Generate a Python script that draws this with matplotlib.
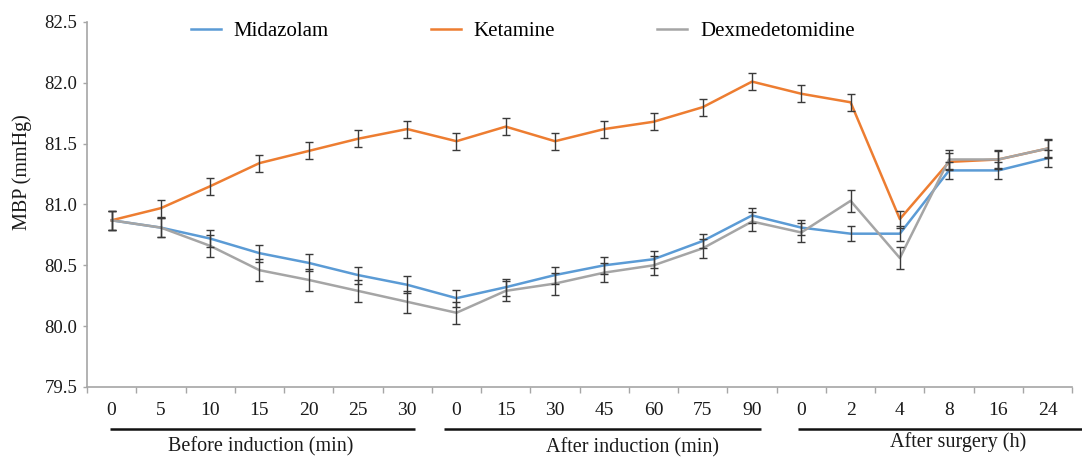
import matplotlib
matplotlib.use("Agg")
import matplotlib.pyplot as plt
import matplotlib.transforms as mtransforms
import numpy as np

plt.rcParams['font.family'] = ['Liberation Serif', 'DejaVu Serif']

# ---- data ----
tick_labels = ['0', '5', '10', '15', '20', '25', '30',
               '0', '15', '30', '45', '60', '75', '90',
               '0', '2', '4', '8', '16', '24']
groups = ['Before induction (min)', 'After induction (min)', 'After surgery (h)']

midazolam = [80.87, 80.81, 80.72, 80.60, 80.52, 80.42, 80.34,
             80.23, 80.32, 80.42, 80.50, 80.55, 80.70, 80.91,
             80.81, 80.76, 80.76, 81.28, 81.28, 81.38]
midazolam_err = [0.08, 0.08, 0.07, 0.07, 0.07, 0.07, 0.07,
                 0.07, 0.07, 0.07, 0.07, 0.07, 0.06, 0.06,
                 0.06, 0.06, 0.06, 0.07, 0.07, 0.07]

ketamine = [80.87, 80.97, 81.15, 81.34, 81.44, 81.54, 81.62,
            81.52, 81.64, 81.52, 81.62, 81.68, 81.80, 82.01,
            81.91, 81.84, 80.88, 81.35, 81.37, 81.46]
ketamine_err = [0.08, 0.07, 0.07, 0.07, 0.07, 0.07, 0.07,
                0.07, 0.07, 0.07, 0.07, 0.07, 0.07, 0.07,
                0.07, 0.07, 0.07, 0.07, 0.07, 0.07]

dexmed = [80.87, 80.81, 80.66, 80.46, 80.38, 80.29, 80.20,
          80.11, 80.29, 80.35, 80.44, 80.50, 80.64, 80.86,
          80.77, 81.03, 80.56, 81.37, 81.37, 81.46]
dexmed_err = [0.08, 0.08, 0.09, 0.09, 0.09, 0.09, 0.09,
              0.09, 0.08, 0.09, 0.08, 0.08, 0.08, 0.08,
              0.08, 0.09, 0.09, 0.08, 0.08, 0.08]

series = [('Midazolam', midazolam, midazolam_err, '#5B9BD5'),
          ('Ketamine', ketamine, ketamine_err, '#ED7D31'),
          ('Dexmedetomidine', dexmed, dexmed_err, '#A5A5A5')]

# ---- figure ----
fig = plt.figure(figsize=(10.82, 4.59), dpi=100)
ax = fig.add_axes([0.0804, 0.1569, 0.9106, 0.7952])

x = np.arange(len(tick_labels))
handles = []
for name, vals, err, col in series:
    ln, = ax.plot(x, vals, color=col, lw=1.8, label=name, zorder=3)
    ax.errorbar(x, vals, yerr=err, fmt='none', ecolor='#3a3a3a',
                elinewidth=1.0, capsize=3, capthick=1.0, zorder=4)
    handles.append(ln)

ax.set_xlim(-0.5, len(tick_labels) - 0.5)
ax.set_ylim(79.5, 82.5)
yt = np.arange(79.5, 82.51, 0.5)
ax.set_yticks(yt)
ax.set_yticklabels([f'{v:.1f}' for v in yt])

ax.set_xticks(x)
ax.set_xticklabels(tick_labels)
ax.set_xticks(np.arange(-0.5, len(tick_labels), 1.0), minor=True)
ax.tick_params(axis='x', which='major', length=0, pad=11, labelsize=14, colors='#1a1a1a')
ax.tick_params(axis='x', which='minor', length=4, width=1, color='#a6a6a6', direction='out')
ax.tick_params(axis='y', length=3, width=1, color='#a6a6a6', labelsize=13.5,
               labelcolor='#1a1a1a', pad=4)

for s in ['top', 'right']:
    ax.spines[s].set_visible(False)
for s in ['left', 'bottom']:
    ax.spines[s].set_color('#a6a6a6')
    ax.spines[s].set_linewidth(1.2)

ax.set_ylabel('MBP (mmHg)', fontsize=14.5, color='#1a1a1a')
ax.yaxis.set_label_coords(-0.056, 0.589)

# group lines and labels
trans = mtransforms.blended_transform_factory(ax.transData, ax.transAxes)
line_extents = [(-0.03, 6.15), (6.74, 13.18), (13.93, 19.7)]
label_x = [3.03, 10.58, 17.18]
label_y = [-0.165, -0.166, -0.152]
for gname, (x0, x1), lx, ly in zip(groups, line_extents, label_x, label_y):
    ax.plot([x0, x1], [-0.115, -0.115], transform=trans, color='#111111',
            lw=1.8, clip_on=False, solid_capstyle='butt')
    ax.text(lx, ly, gname, transform=trans, ha='center', va='center',
            fontsize=14.5, color='#1a1a1a')

ax.legend(handles=handles, loc='center left', bbox_to_anchor=(0.1056, 0.975),
          ncol=3, frameon=False, fontsize=15, handlelength=1.45,
          handletextpad=0.6, columnspacing=4.9, borderaxespad=0, borderpad=0)

fig.savefig('out.png', dpi=100)
